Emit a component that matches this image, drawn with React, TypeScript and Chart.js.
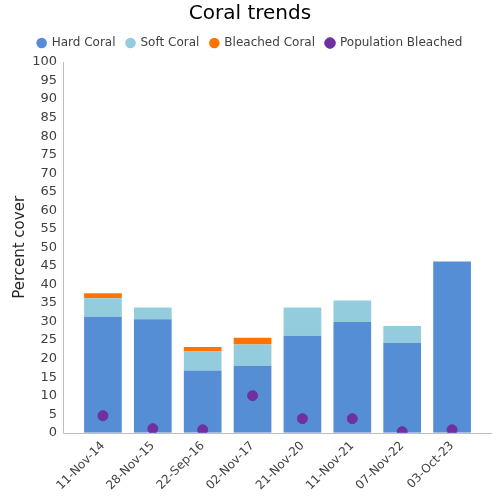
import React, { useEffect, useRef } from "react";
import { Chart, registerables } from "chart.js";

Chart.register(...registerables);

const categories = ["11-Nov-14", "28-Nov-15", "22-Sep-16", "02-Nov-17", "21-Nov-20", "11-Nov-21", "07-Nov-22", "03-Oct-23"];
const hardCoral = [31.3, 30.6, 16.8, 18.1, 26.2, 29.9, 24.3, 46.2];
const softCoral = [5.0, 3.2, 5.1, 5.7, 7.6, 5.8, 4.5, 0];
const bleachedCoral = [1.3, 0, 1.2, 1.8, 0, 0, 0, 0];
const populationBleached = [4.6, 1.1, 0.8, 10.0, 3.8, 3.8, 0.3, 0.8];

const FONT = "'DejaVu Sans', sans-serif";

const axisLines = {
  id: "axisLines",
  beforeDatasetsDraw(chart: any) {
    const { ctx, chartArea } = chart;
    const x0 = chartArea.left - 15;
    const x1 = chartArea.right + 15;
    ctx.save();
    ctx.strokeStyle = "#bfbfbf";
    ctx.lineWidth = 1;
    ctx.beginPath();
    ctx.moveTo(Math.round(x0) + 0.5, chartArea.top);
    ctx.lineTo(Math.round(x0) + 0.5, Math.round(chartArea.bottom) + 0.5);
    ctx.lineTo(x1, Math.round(chartArea.bottom) + 0.5);
    ctx.stroke();
    ctx.restore();
  },
};

const legendSpacer = {
  id: "legendSpacer",
  beforeInit(chart: any) {
    const legend = chart.legend;
    if (!legend) return;
    const origFit = legend.fit;
    legend.fit = function () {
      origFit.call(this);
      this.height += 3;
    };
  },
  afterLayout(chart: any) {
    const w = chart.width;
    for (const box of [chart.titleBlock, chart.legend]) {
      if (!box) continue;
      box.left = 0;
      box.right = w;
      box.width = w;
    }
  },
};

export default function App() {
  const ref = useRef<HTMLCanvasElement>(null);
  useEffect(() => {
    if (!ref.current) return;
    const chart = new Chart(ref.current, {
      type: "bar",
      plugins: [axisLines, legendSpacer],
      data: {
        labels: categories,
        datasets: [
          { label: "Hard Coral", data: hardCoral, backgroundColor: "#558ed5", order: 1, stack: "s" } as any,
          { label: "Soft Coral", data: softCoral, backgroundColor: "#93cddd", order: 1, stack: "s" },
          { label: "Bleached Coral", data: bleachedCoral, backgroundColor: "#ff7300", order: 1, stack: "s" },
          {
            type: "line",
            label: "Population Bleached",
            data: populationBleached,
            showLine: false,
            pointRadius: 5,
            pointBackgroundColor: "#7030a0",
            pointBorderColor: "#7030a0",
            backgroundColor: "#7030a0",
            borderColor: "#7030a0",
            order: 0,
            stack: "p",
          },
        ],
      },
      options: {
        animation: false,
        responsive: false,
        datasets: { bar: { categoryPercentage: 0.84, barPercentage: 0.9 } },
        layout: { padding: { right: 23, left: 7, bottom: 1 } },
        plugins: {
          title: {
            display: true,
            text: "Coral trends",
            color: "#000",
            font: { family: FONT, size: 20, weight: "normal" },
            padding: { top: 2, bottom: 0 },
          },
          legend: {
            labels: {
              usePointStyle: true,
              pointStyle: "circle",
              boxWidth: 8,
              boxHeight: 7.5,
              padding: 11,
              color: "#404040",
              font: { family: FONT, size: 12 },
              sort: (a: any, b: any) => a.datasetIndex - b.datasetIndex,
            },
          },
          tooltip: { enabled: false },
        },
        scales: {
          x: {
            stacked: true,
            grid: { display: false, drawTicks: false },
            border: { display: false },
            ticks: { color: "#404040", font: { family: FONT, size: 12 }, maxRotation: 45, minRotation: 45, padding: 6 },
          },
          y: {
            stacked: true,
            min: 0,
            max: 100,
            grid: { display: false, drawTicks: false },
            border: { display: false },
            afterFit: (scale: any) => {
              scale.width = 71;
            },
            ticks: { stepSize: 5, color: "#404040", font: { family: FONT, size: 13 }, autoSkip: false, padding: 21 },
            title: { display: true, text: "Percent cover", color: "#262626", font: { family: FONT, size: 15 } },
          },
        },
      },
    });
    return () => chart.destroy();
  }, []);
  return (
    <div style={{ position: "absolute", left: 0, top: 0, width: 500, height: 500 }}>
      <canvas ref={ref} width={500} height={500} />
    </div>
  );
}
